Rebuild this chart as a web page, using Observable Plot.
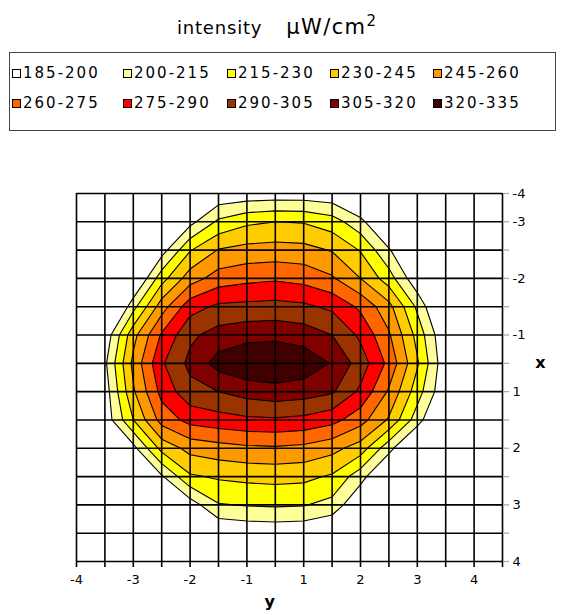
<!DOCTYPE html>
<html><head><meta charset="utf-8">
<script src="https://cdn.jsdelivr.net/npm/d3@7"></script>
<script src="https://cdn.jsdelivr.net/npm/@observablehq/plot@0.6"></script>
<style>
body{margin:0;background:#fff;font-family:"DejaVu Sans",Verdana,sans-serif;width:569px;height:615px;position:relative;overflow:hidden}
#title{position:absolute;top:12px;left:177px;white-space:nowrap;color:#000}
#title .a{font-size:18px;letter-spacing:0.8px}
#title .b{font-size:21px;letter-spacing:1.4px;margin-left:24px}
#title sup{font-size:15px;letter-spacing:0}
#legend{position:absolute;left:9px;top:52px;width:545px;height:77px;border:1px solid #444;}
.item{position:absolute;font-size:15px;letter-spacing:2px;line-height:16px;color:#000;white-space:nowrap}
.sw{position:absolute;width:7px;height:7px;border:1px solid #000}
#chart{position:absolute;top:140px;left:0}
</style></head><body>
<div id="title"><span class="a">intensity</span><span class="b">μW/cm<sup>2</sup></span></div>
<div id="legend"></div>
<div id="chart"></div>
<script>
// band labels and colours (legend order)
const bandLabels = ["185-200","200-215","215-230","230-245","245-260","260-275","275-290","290-305","305-320","320-335"];
const bandColors = ["#FFFFFF","#FFFF99","#FFFF00","#FFCC00","#FF9900","#FF6600","#FF0000","#993300","#800000","url(#chk)"];
// contour thresholds (lower bound of each coloured band)
const thresholds = [200,215,230,245,260,275,290,305,320];
// bottom axis (y) tick labels and the grid column they sit on
const yTickCols = [0,2,4,6,8,10,12,14];
const yTickText = ["-4","-3","-2","-1","1","2","3","4"];
// right axis (x) tick labels and the grid row they sit on
const xTickRows = [0,1,3,5,7,9,11,13];
const xTickText = ["-4","-3","-2","-1","1","2","3","4"];
// intensity (µW/cm²) estimated at each grid node, top row first, left column first
const row0  = [120,125,135,150,170,188,190,191,191,189,172,155,140,130,125,120];
const row1  = [130,135,145,168,195,218,227,230,229,222,205,175,155,145,135,130];
const row2  = [140,145,160,193,229,246,250,251,250,244,229,202,172,155,145,140];
const row3  = [145,150,178,224,253,267,271,273,270,262,245,222,188,160,150,145];
const row4  = [150,160,210,253,284,293,294,295,293,287,272,250,212,172,155,150];
const row5  = [160,189,240,277,302,311,315,316,313,305,287,262,225,185,165,155];
const row6  = [165,197,249,288,309,326,333,334,330,319,298,271,232,188,170,160];
const row7  = [160,192,243,280,300,305,311,314,312,307,287,258,222,186,165,155];
const row8  = [150,190,230,266,280,284,287,288,286,280,266,243,207,172,155,150];
const row9  = [145,160,195,235,250,254,257,258,256,250,238,205,175,158,148,145];
const row10 = [140,148,165,198,228,232,234,235,234,228,206,178,160,150,143,140];
const row11 = [130,138,150,170,192,214,216,217,216,210,185,165,150,140,135,130];
const row12 = [120,125,135,150,170,185,188,189,188,182,165,150,138,130,125,120];
const row13 = [110,115,125,138,155,168,171,172,171,165,150,138,128,120,115,110];
const intensityRows = [row0,row1,row2,row3,row4,row5,row6,row7,row8,row9,row10,row11,row12,row13];

// legend
const legend = document.getElementById("legend");
const colLeft = [2,113,217,320,423];
bandLabels.forEach((lab, i) => {
  const r = Math.floor(i / 5), c = i % 5;
  const top = r === 0 ? 12 : 42;
  const sw = document.createElement("div");
  sw.className = "sw";
  sw.style.left = colLeft[c] + "px";
  sw.style.top = (top + 4) + "px";
  sw.style.background = i === 9 ? "repeating-conic-gradient(#000 0 25%, #800000 0 50%) 0 0/2px 2px" : bandColors[i];
  legend.appendChild(sw);
  const t = document.createElement("div");
  t.className = "item";
  t.textContent = lab;
  t.style.left = (colLeft[c] + 11) + "px";
  t.style.top = top + "px";
  legend.appendChild(t);
});

const nCols = row0.length, nRows = intensityRows.length;
const values = intensityRows.flat();
const colIdx = d3.range(nCols), rowIdx = d3.range(nRows);

const plot = Plot.plot({
  width: 569, height: 475,
  marginTop: 53, marginBottom: 54, marginLeft: 76, marginRight: 67,
  style: {fontFamily: "DejaVu Sans", fontSize: "13px", background: "white"},
  x: {domain: [0, nCols - 1]},
  y: {domain: [0, nRows - 1], reverse: true},
  color: {type: "ordinal", domain: thresholds, range: bandColors.slice(1)},
  marks: [
    Plot.contour(values, {
      width: nCols, height: nRows,
      x1: -0.5, x2: nCols - 0.5, y1: -0.5, y2: nRows - 0.5,
      thresholds, fill: Plot.identity, stroke: "#000", strokeWidth: 1.1
    }),
    Plot.ruleX(colIdx, {stroke: "#000", strokeWidth: 1.6}),
    Plot.ruleY(rowIdx, {stroke: "#000", strokeWidth: 1.6}),
    Plot.axisX({ticks: colIdx, tickSize: 6, tickPadding: 7, stroke: "#000", strokeWidth: 1.6,
      tickFormat: i => { const k = yTickCols.indexOf(i); return k >= 0 ? yTickText[k] : ""; }, label: null}),
    Plot.axisY({anchor: "right", ticks: rowIdx, tickSize: 6, tickPadding: 4, stroke: "#aaa", strokeWidth: 1.3,
      tickFormat: i => { const k = xTickRows.indexOf(i); return k >= 0 ? xTickText[k] : ""; }, label: null}),
    Plot.text(["y"], {x: 6.8, frameAnchor: "bottom", dy: 45, fontWeight: "bold", fontSize: 16, textAnchor: "middle"}),
    Plot.text(["x"], {y: 6, frameAnchor: "right", dx: 38, fontWeight: "bold", fontSize: 16, textAnchor: "middle"})
  ]
});

const defs = d3.select(plot).insert("defs", ":first-child");
const pat = defs.append("pattern").attr("id", "chk").attr("width", 2).attr("height", 2).attr("patternUnits", "userSpaceOnUse");
pat.append("rect").attr("width", 2).attr("height", 2).attr("fill", "#800000");
pat.append("rect").attr("width", 1).attr("height", 1).attr("fill", "#000");
pat.append("rect").attr("x", 1).attr("y", 1).attr("width", 1).attr("height", 1).attr("fill", "#000");

document.getElementById("chart").appendChild(plot);
</script></body></html>
